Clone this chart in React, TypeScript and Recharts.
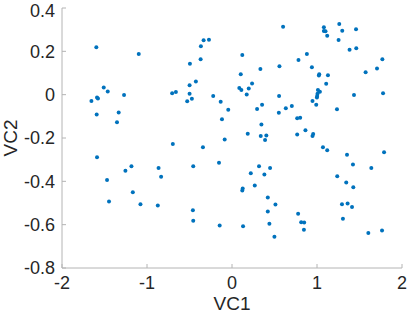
import { ScatterChart, Scatter, XAxis, YAxis } from "recharts";

// VC1 / VC2 scores
const vc1 = [
    -1.596, -1.097, -1.509, -1.462, -1.588, -1.577, -1.654, -1.27, -1.592, -1.333, -1.353, -0.704, -0.66,
    0.601, -0.334, -0.271, -0.366, 0.121, -0.369, -0.495, 0.334, 0.558, 0.103, -0.499, -0.425, 0.236,
    0.086, 0.11, 0.197, -0.499, 0.173, 0.554, -0.221, -0.527, -0.472, -0.133, 0.354, 0.295, 0.633,
    -0.044, 0.551, -0.118, 0.346, 0.185, 0.338, 0.404, -0.086, 0.389,
    1.262, 1.081, 1.081, 1.1, 1.297, 1.459, 1.12, 1.254, 1.383, 1.462, 0.881, 0.782, 1.769, 0.94, 1.706,
    1.572, 1.026, 1.022, 1.129, 1.108, 1.011, 1.034, 1.006, 1.002, 0.999, 1.435, 1.777, 0.947, 0.991,
    0.704, 1.235, 0.767, 0.802, 0.864, 0.767, 0.955, 0.947,
    -0.696, -1.588, -1.183, -1.254, -0.864, -0.834, -1.47, -1.167, -1.447, -1.077, -0.873,
    -0.342, -0.456, -0.153, 0.318, 0.448, 0.221, 0.381, 0.268, 0.126, 0.121, 0.421, 0.511, -0.46, 0.421,
    -0.456, -0.145, 0.13, 0.44, 0.499,
    1.07, 1.12, 1.353, 1.789, 1.423, 1.639, 1.238, 1.344, 1.427, 1.294, 1.36, 1.412, 0.778, 1.305, 0.814,
    0.849, 0.846, 1.604, 1.765,
];

const vc2 = [
    0.219, 0.188, 0.033, 0.015, -0.013, -0.018, -0.029, -0.002, -0.092, -0.082, -0.127, 0.007, 0.012,
    0.313, 0.251, 0.254, 0.223, 0.183, 0.163, 0.143, 0.119, 0.131, 0.094, 0.044, 0.061, 0.052,
    0.031, 0.022, 0.029, 0.004, 0.001, -0.006, -0.006, -0.03, -0.019, -0.033, -0.047, -0.066, -0.063,
    -0.07, -0.084, -0.113, -0.138, -0.18, -0.191, -0.189, -0.207, -0.209,
    0.326, 0.311, 0.294, 0.293, 0.295, 0.302, 0.272, 0.252, 0.207, 0.214, 0.188, 0.16, 0.164, 0.127, 0.121,
    0.103, 0.094, 0.089, 0.09, 0.05, 0.022, 0.013, 0.004, -0.006, -0.013, -0.002, 0.007, -0.029, -0.047,
    -0.052, -0.067, -0.109, -0.106, -0.164, -0.184, -0.181, -0.191,
    -0.228, -0.289, -0.33, -0.351, -0.339, -0.379, -0.394, -0.45, -0.493, -0.506, -0.512,
    -0.243, -0.33, -0.314, -0.33, -0.339, -0.363, -0.369, -0.419, -0.433, -0.442, -0.475, -0.507, -0.533, -0.539,
    -0.582, -0.604, -0.607, -0.596, -0.656,
    -0.243, -0.257, -0.277, -0.266, -0.322, -0.339, -0.377, -0.405, -0.427, -0.506, -0.502, -0.519, -0.55, -0.573, -0.589,
    -0.59, -0.623, -0.638, -0.627,
];

const xTicks = [-2, -1, 0, 1, 2];
const yTicks = [-0.8, -0.6, -0.4, -0.2, 0, 0.2, 0.4];

const points = vc1.map((x, i) => ({ x, y: vc2[i] }));

const font = "'Liberation Sans', Arial, Helvetica, sans-serif";
const textColor = "#262626";
const boxColor = "#b4b4b4";
const tickStyle = { fill: textColor, fontSize: 18, fontFamily: font };

const Dot = (props: any) => <circle cx={props.cx} cy={props.cy} r={2} fill="#0072BD" />;

export default function App() {
    return (
        <div style={{ position: "absolute", left: 0, top: 0, background: "#fff" }}>
            <ScatterChart width={407} height={313} margin={{ top: 8, right: 5, left: 0, bottom: 0 }}>
                <XAxis
                    dataKey="x"
                    type="number"
                    domain={[-2, 2]}
                    ticks={xTicks}
                    allowDataOverflow
                    height={45}
                    tickSize={-4}
                    tickMargin={12}
                    stroke={boxColor}
                    tick={tickStyle}
                    label={{ value: "VC1", position: "insideBottom", offset: 3, fill: textColor, fontSize: 19, fontFamily: font }}
                />
                <XAxis
                    xAxisId="top"
                    orientation="top"
                    type="number"
                    domain={[-2, 2]}
                    ticks={xTicks}
                    allowDataOverflow
                    height={0}
                    tickSize={-4}
                    tick={false}
                    stroke={boxColor}
                />
                <YAxis
                    dataKey="y"
                    type="number"
                    domain={[-0.8, 0.4]}
                    ticks={yTicks}
                    allowDataOverflow
                    width={62}
                    tickSize={-4}
                    tickMargin={11}
                    stroke={boxColor}
                    tick={tickStyle}
                    label={{
                        value: "VC2",
                        content: (p: any) => {
                            const vb = p.viewBox;
                            const cx = vb.x + 17;
                            const cy = vb.y + vb.height / 2;
                            return (
                                <text x={cx} y={cy} transform={`rotate(-90, ${cx}, ${cy})`} textAnchor="middle"
                                    fill={textColor} fontSize={19} fontFamily={font}>VC2</text>
                            );
                        },
                    }}
                />
                <YAxis
                    yAxisId="right"
                    orientation="right"
                    type="number"
                    domain={[-0.8, 0.4]}
                    ticks={yTicks}
                    allowDataOverflow
                    width={0}
                    tickSize={-4}
                    tick={false}
                    stroke={boxColor}
                />
                <Scatter data={points} shape={Dot} isAnimationActive={false} />
            </ScatterChart>
        </div>
    );
}
